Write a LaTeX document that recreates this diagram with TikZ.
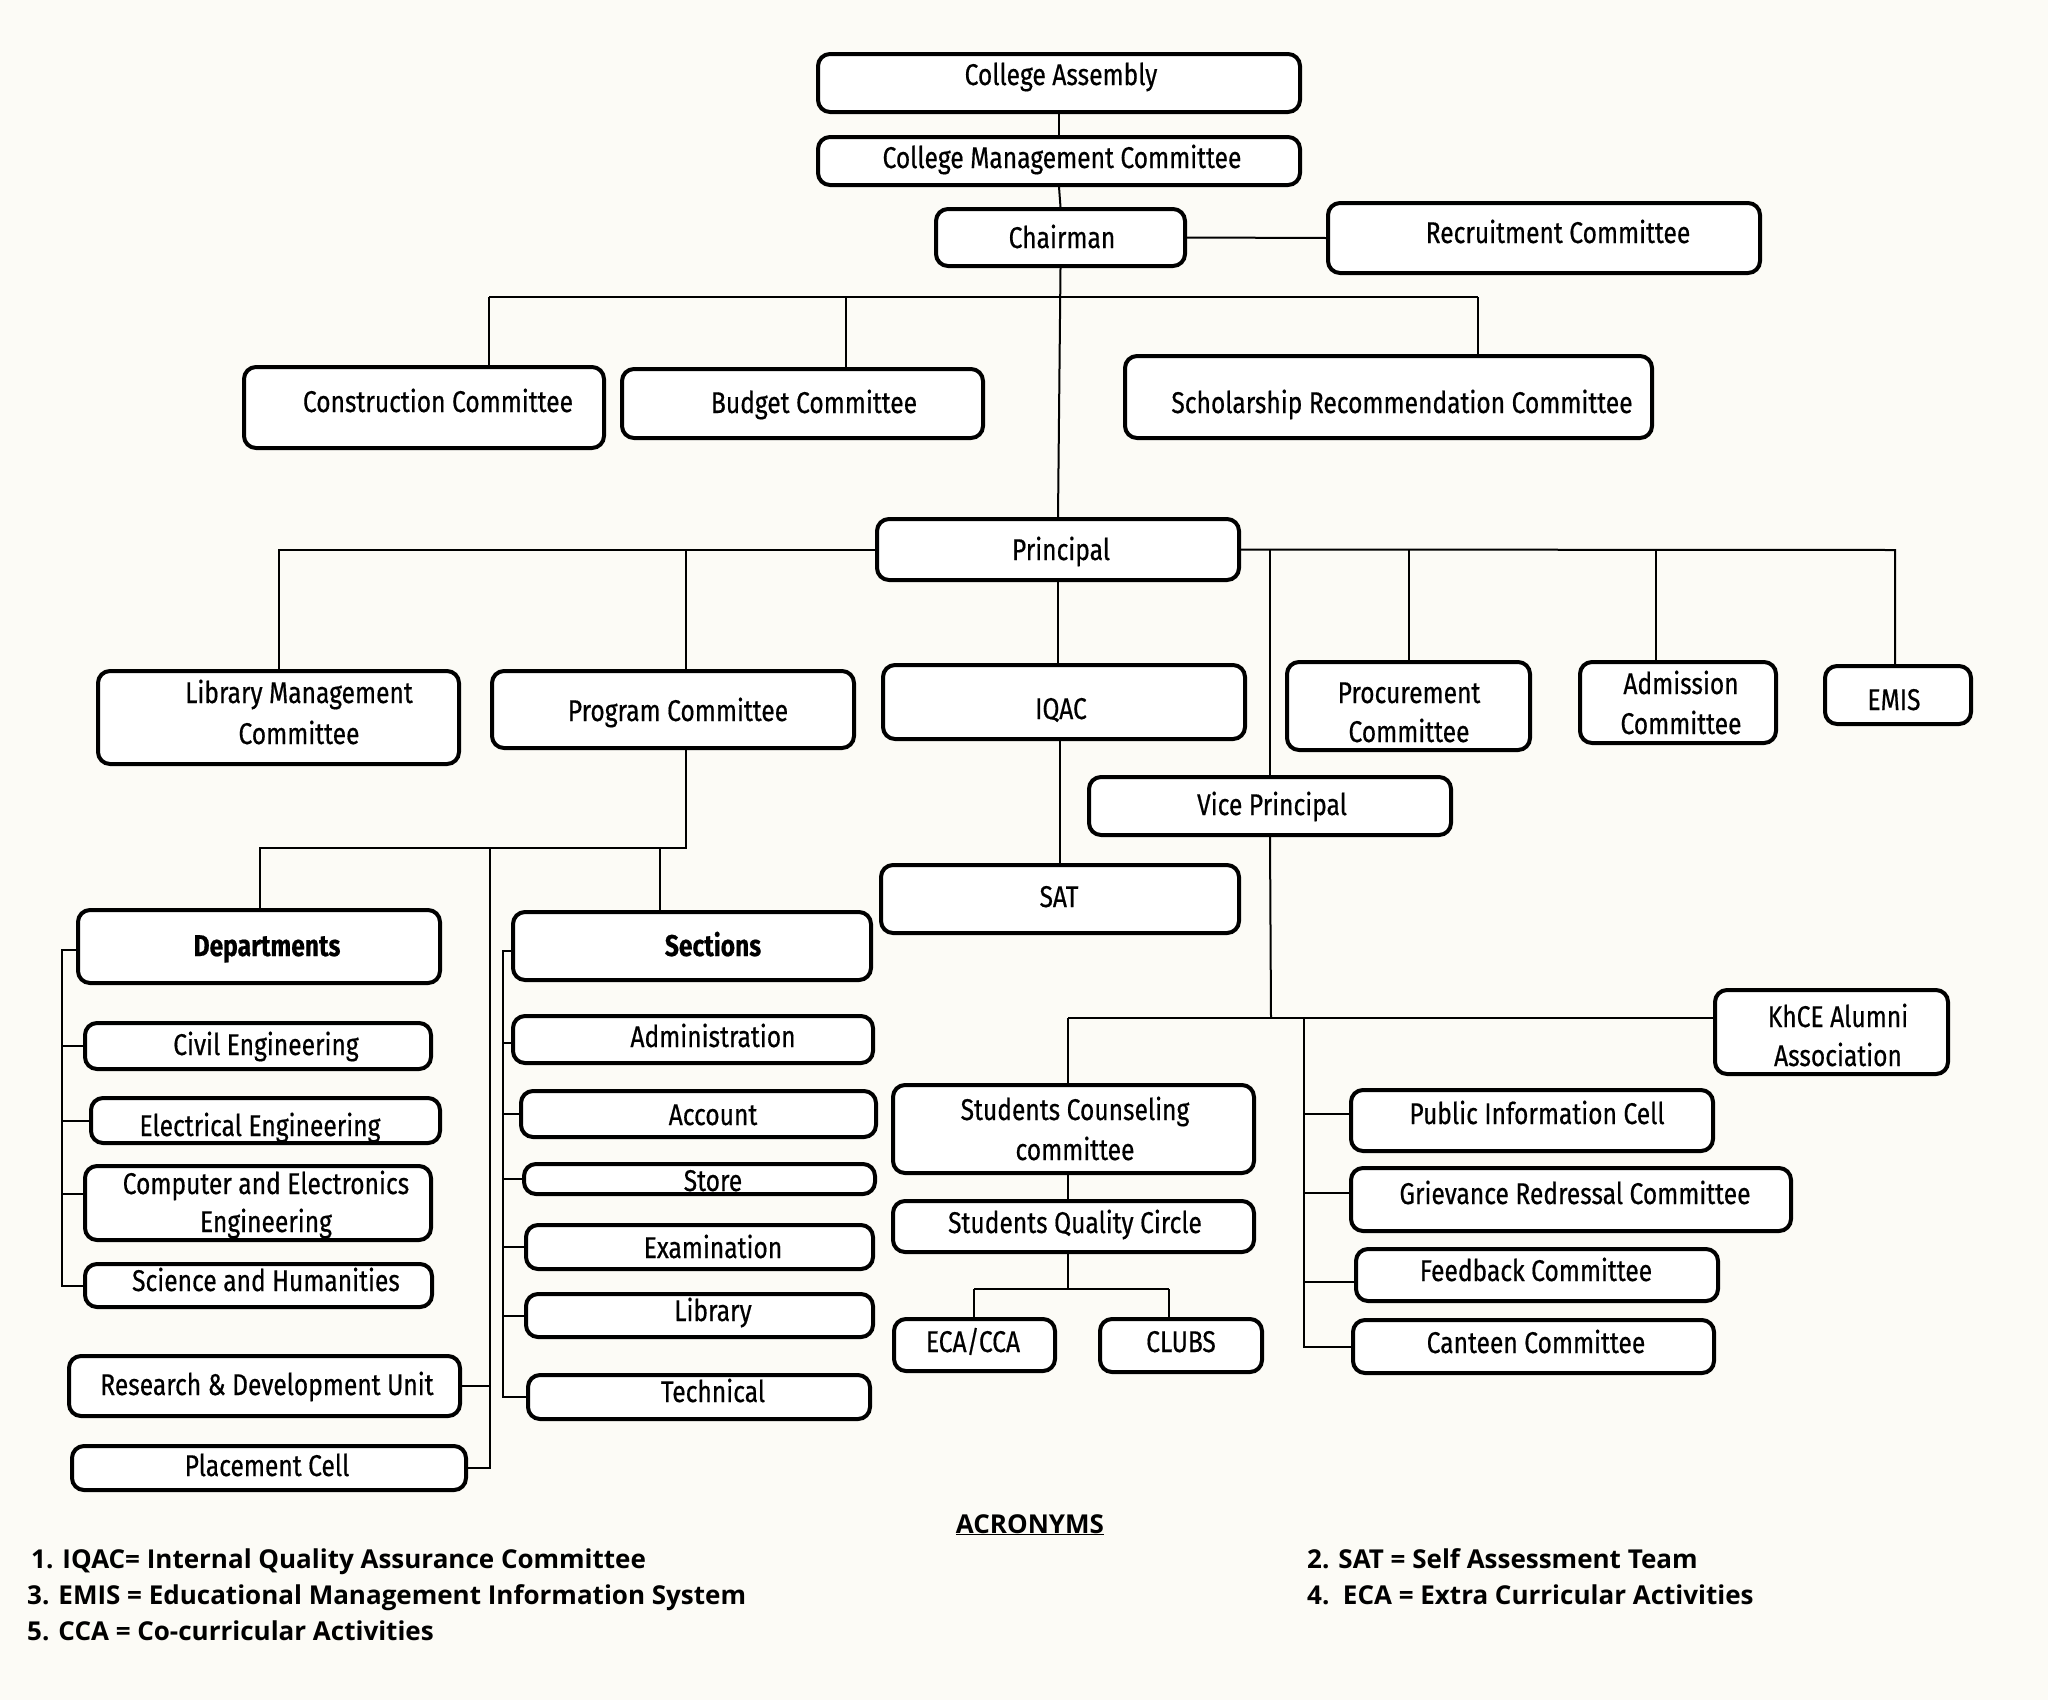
\documentclass[tikz,border=0pt]{standalone}
\usepackage{fontspec}
\newfontfamily\boxfnt{Fira Sans}[FakeStretch=0.82,FakeBold=0.5]
\newfontfamily\acrfnt{Open Sans}
\definecolor{bgc}{RGB}{252,251,246}
\tikzset{
  obox/.style={draw=black, fill=white, line width=4pt, rounded corners=12pt, rectangle, inner sep=0pt},
  btxt/.style={font=\boxfnt\fontsize{30}{34}\selectfont, inner sep=0pt, anchor=base},
  atxt/.style={font=\acrfnt\bfseries\fontsize{26}{30}\selectfont, inner sep=0pt, anchor=base west},
  conn/.style={draw=black, line width=2pt},
}
\newcommand{\bx}[5]{\node[obox, minimum width={#4-#2-4}, minimum height={#5-#3-4}] (#1) at ({(#2+#4)/2},{(#3+#5)/2}) {};}
\newcommand{\tx}[4]{\node[btxt] (#1) at (#2,#3) {#4};}
\begin{document}
\begin{tikzpicture}[x=1pt,y=-1pt]
\path[use as bounding box, fill=bgc] (0,0) rectangle (2048,1700);

% boxes
\bx{ca}{816}{52}{1302}{114}
\bx{cmc}{816}{135}{1302}{187}
\bx{chair}{934}{207}{1187}{268}
\bx{rec}{1326}{201}{1762}{275}
\bx{cons}{242}{365}{606}{450}
\bx{bud}{620}{367}{985}{440}
\bx{sch}{1123}{354}{1654}{440}
\bx{prin}{875}{517}{1241}{582}
\bx{lib}{96}{669}{461}{766}
\bx{prog}{490}{669}{856}{750}
\bx{iqac}{881}{663}{1247}{741}
\bx{proc}{1285}{660}{1532}{752}
\bx{adm}{1578}{660}{1778}{745}
\bx{emis}{1823}{664}{1973}{726}
\bx{vp}{1087}{775}{1453}{837}
\bx{sat}{879}{863}{1241}{935}
\bx{dept}{76}{908}{442}{985}
\bx{sects}{511}{910}{873}{982}
\bx{civ}{83}{1021}{433}{1071}
\bx{elec}{89}{1096}{442}{1145}
\bx{comp}{83}{1164}{433}{1242}
\bx{sci}{83}{1262}{434}{1309}
\bx{admn}{511}{1014}{875}{1065}
\bx{acct}{519}{1089}{878}{1139}
\bx{store}{522}{1162}{877}{1196}
\bx{exam}{524}{1223}{875}{1271}
\bx{libr}{524}{1292}{875}{1339}
\bx{tech}{526}{1373}{872}{1421}
\bx{rd}{67}{1354}{462}{1418}
\bx{place}{70}{1444}{468}{1492}
\bx{khce}{1713}{988}{1950}{1076}
\bx{pi}{1349}{1088}{1715}{1153}
\bx{griev}{1349}{1166}{1793}{1233}
\bx{feed}{1354}{1247}{1720}{1303}
\bx{cant}{1351}{1318}{1716}{1375}
\bx{sc}{891}{1083}{1256}{1175}
\bx{sqc}{891}{1199}{1256}{1254}
\bx{eca}{892}{1317}{1057}{1373}
\bx{clubs}{1098}{1317}{1264}{1374}

% junction coordinates
\coordinate (b1l) at (489,297);
\coordinate (b1m) at (846,297);
\coordinate (b1r) at (1478,297);
\coordinate (p1m) at (686,550);
\coordinate (p1a) at (1656,550);
\coordinate (p1r) at (1895,550);
\coordinate (q1) at (686,848);
\coordinate (q1l) at (260,848);
\coordinate (q1m) at (490,848);
\coordinate (q1s) at (660,848);
\coordinate (dsp) at (62,950);
\coordinate (ssp) at (503,951);
\coordinate (v1) at (1271,1018);
\coordinate (v1l) at (1068,1018);
\coordinate (v1m) at (1304,1018);
\coordinate (s1) at (1068,1289);
\coordinate (s1l) at (974,1289);
\coordinate (s1r) at (1169,1289);

% connectors
\draw[conn] (ca.south) -- (cmc.north);
\draw[conn] (cmc.south) -- (chair.north);
\draw[conn] (chair.east) -- (rec.west);
\draw[conn] (chair.south) -- (prin.north);
\draw[conn] (b1l) -- (b1r);
\draw[conn] (b1l) -- (b1l |- cons.north);
\draw[conn] (b1m) -- (b1m |- bud.north);
\draw[conn] (b1r) -- (b1r |- sch.north);
% principal
\draw[conn] (prin.west) -| (lib.north);
\draw[conn] (p1m) -- (p1m |- prog.north);
\draw[conn] (prin.east) -- (p1r) -- (p1r |- emis.north);
\draw[conn] (vp.north) -- (vp.north |- p1r);
\draw[conn] (proc.north) -- (proc.north |- p1r);
\draw[conn] (p1a) -- (p1a |- adm.north);
\draw[conn] (prin.south) -- (prin.south |- iqac.north);
\draw[conn] (sat.north |- iqac.south) -- (sat.north);
% program committee
\draw[conn] (q1 |- prog.south) -- (q1) -- (q1l) -- (q1l |- dept.north);
\draw[conn] (q1s) -- (q1s |- sects.north);
\draw[conn] (q1m) |- (place.east);
\draw[conn] (rd.east) -- (rd.east -| q1m);
% departments
\draw[conn] (dept.west |- dsp) -- (dsp) |- (sci.west);
\draw[conn] (civ.west -| dsp) -- (civ.west);
\draw[conn] (elec.west -| dsp) -- (elec.west);
\draw[conn] ([yshift=9pt]comp.west -| dsp) -- ([yshift=9pt]comp.west);
% sections
\draw[conn] (sects.west |- ssp) -- (ssp) |- (tech.west);
\draw[conn] ([yshift=-3pt]admn.west -| ssp) -- ([yshift=-3pt]admn.west);
\draw[conn] (acct.west -| ssp) -- (acct.west);
\draw[conn] (store.west -| ssp) -- (store.west);
\draw[conn] (exam.west -| ssp) -- (exam.west);
\draw[conn] (libr.west -| ssp) -- (libr.west);
% vice principal
\draw[conn] (vp.south) -- (v1);
\draw[conn] (v1l) -- (v1l -| khce.west);
\draw[conn] (v1l) -- (v1l |- sc.north);
\draw[conn] (v1l |- sc.south) -- (v1l |- sqc.north);
\draw[conn] (s1 |- sqc.south) -- (s1);
\draw[conn] (s1l) -- (s1r);
\draw[conn] (s1l) -- (s1l |- eca.north);
\draw[conn] (s1r) -- (s1r |- clubs.north);
\draw[conn] (v1m) |- (cant.west);
\draw[conn] ([yshift=7pt]pi.west -| v1m) -- ([yshift=7pt]pi.west);
\draw[conn] ([yshift=7pt]griev.west -| v1m) -- ([yshift=7pt]griev.west);
\draw[conn] ([yshift=-7pt]feed.west -| v1m) -- ([yshift=-7pt]feed.west);

% texts
\tx{ca-t}{1061}{85}{College Assembly}
\tx{cmc-t}{1062}{168}{College Management Committee}
\tx{chair-t}{1062}{248}{Chairman}
\tx{rec-t}{1558}{243}{Recruitment Committee}
\tx{cons-t}{438}{412}{Construction Committee}
\tx{bud-t}{814}{413}{Budget Committee}
\tx{sch-t}{1402}{413}{Scholarship Recommendation Committee}
\tx{prin-t}{1061}{560}{Principal}
\tx{lib-a}{299}{703}{Library Management}
\tx{lib-b}{299}{744}{Committee}
\tx{prog-t}{678}{721}{Program Committee}
\tx{iqac-t}{1061}{719}{IQAC}
\tx{proc-a}{1409}{703}{Procurement}
\tx{proc-b}{1409}{742}{Committee}
\tx{adm-a}{1681}{694}{Admission}
\tx{adm-b}{1681}{734}{Committee}
\tx{emis-t}{1894}{710}{EMIS}
\tx{vp-t}{1272}{815}{Vice Principal}
\tx{sat-t}{1059}{907}{SAT}
\tx{dept-t}{267}{956}{\bfseries Departments}
\tx{sects-t}{713}{956}{\bfseries Sections}
\tx{civ-t}{266}{1055}{Civil Engineering}
\tx{elec-t}{260}{1136}{Electrical Engineering}
\tx{comp-a}{266}{1194}{Computer and Electronics}
\tx{comp-b}{266}{1232}{Engineering}
\tx{sci-t}{266}{1291}{Science and Humanities}
\tx{admn-t}{713}{1047}{Administration}
\tx{acct-t}{713}{1125}{Account}
\tx{store-t}{713}{1191}{Store}
\tx{exam-t}{713}{1258}{Examination}
\tx{libr-t}{713}{1321}{Library}
\tx{tech-t}{713}{1402}{Technical}
\tx{rd-t}{267}{1395}{Research \& Development Unit}
\tx{place-t}{267}{1476}{Placement Cell}
\tx{khce-a}{1838}{1027}{KhCE Alumni}
\tx{khce-b}{1838}{1066}{Association}
\tx{pi-t}{1537}{1124}{Public Information Cell}
\tx{griev-t}{1575}{1204}{Grievance Redressal Committee}
\tx{feed-t}{1536}{1281}{Feedback Committee}
\tx{cant-t}{1536}{1353}{Canteen Committee}
\tx{sc-a}{1075}{1120}{Students Counseling}
\tx{sc-b}{1075}{1160}{committee}
\tx{sqc-t}{1075}{1233}{Students Quality Circle}
\tx{eca-t}{973}{1352}{ECA/CCA}
\tx{clubs-t}{1181}{1352}{CLUBS}

% acronyms
\node[atxt, anchor=base] (acr) at (1030,1533) {\underline{ACRONYMS}};
\node[atxt] (ac1) at (31,1568) {1. IQAC= Internal Quality Assurance Committee};
\node[atxt] (ac3) at (27,1604) {3. EMIS = Educational Management Information System};
\node[atxt] (ac5) at (27,1640) {5. CCA = Co-curricular Activities};
\node[atxt] (ac2) at (1307,1568) {2. SAT = Self Assessment Team};
\node[atxt] (ac4) at (1307,1604) {4.\ \ ECA = Extra Curricular Activities};
\end{tikzpicture}
\end{document}
